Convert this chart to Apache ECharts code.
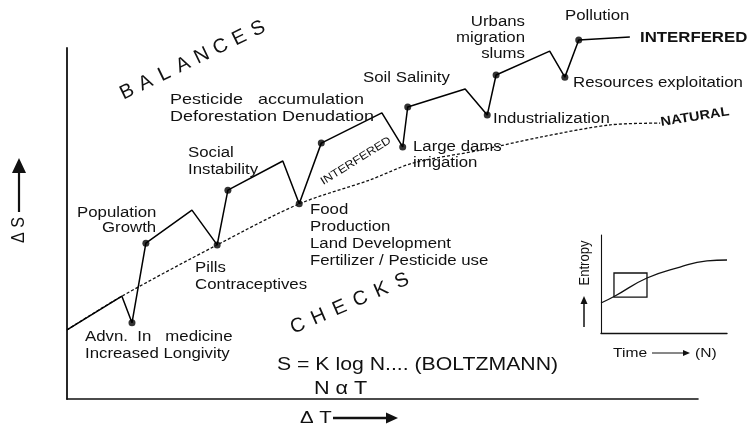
<!DOCTYPE html>
<html><head><meta charset="utf-8">
<script src="https://cdn.jsdelivr.net/npm/echarts@6/dist/echarts.min.js"></script>
<style>html,body{margin:0;padding:0;background:#fff}#c{width:749px;height:430px}</style>
</head><body><div id="c"></div>
<script>
// ---- data (time units 0-100, entropy units 0-100) ----
const naturalX = [0, 8.7, 23.8, 36.8, 48.0, 54.8, 65.5, 75.0, 86.1, 94.0];
const naturalY = [19.7, 29.3, 43.9, 55.6, 62.4, 67.2, 70.9, 74.6, 78.1, 78.6];
const interferedX = [0, 8.7, 10.3, 12.5, 19.8, 23.8, 25.5, 34.2, 36.8, 40.3, 49.9, 53.2, 54.0, 63.1, 66.6, 68.0, 76.5, 78.9, 81.1, 89.2];
const interferedY = [19.7, 29.3, 21.7, 44.4, 53.8, 43.9, 59.5, 67.8, 55.6, 72.9, 81.5, 71.8, 83.2, 88.3, 80.9, 92.3, 99.1, 91.7, 102.3, 103.1];
const eventIndex = [2, 3, 5, 6, 8, 9, 11, 12, 14, 15, 17, 18];
const eventNames = ['Advn. In medicine', 'Population Growth', 'Pills Contraceptives', 'Social Instability',
  'Food Production', 'Pesticide accumulation', 'Large dams irrigation', 'Soil Salinity',
  'Industrialization', 'Urbans migration slums', 'Resources exploitation', 'Pollution'];
// inset (0-10 units)
const insetX = [0, 1.11, 3.65, 6.27, 8.41, 10];
const insetY = [3.06, 3.78, 5.61, 6.73, 7.35, 7.45];
const insetBoxX = [1.03, 3.65];
const insetBoxY = [3.67, 6.12];

const zip = (xs, ys) => xs.map((x, i) => [x, ys[i]]);
const FF = "'Liberation Sans', Arial, sans-serif";
const INK = '#111';

function T(text, x, y, o) {
  o = o || {};
  const size = o.size || 14;
  return {
    type: 'text', x: x, y: y, z: 100,
    rotation: o.rot || 0,
    scaleX: o.sx != null ? o.sx : 1.2,
    scaleY: o.sy != null ? o.sy : 1,
    style: {
      text: text, fill: INK,
      font: (o.bold ? 'bold ' : '') + size + 'px ' + FF,
      textAlign: o.align || 'left', align: o.align || 'left',
      textVerticalAlign: 'middle', verticalAlign: 'middle'
    }
  };
}
function letters(word, x0, y0, x1, y1, size) {
  const n = word.length, rot = Math.atan2(y0 - y1, x1 - x0);
  return word.split('').map((ch, i) => T(ch, x0 + (x1 - x0) * i / (n - 1), y0 + (y1 - y0) * i / (n - 1),
    { size: size, rot: rot, sx: 1, align: 'center' }));
}
const graphics = [];
[
  ['Advn.  In   medicine', 85, 337], ['Increased Longivity', 85, 354],
  ['Population', 77, 213], ['Growth', 102, 228],
  ['Pills', 195, 268], ['Contraceptives', 195, 285],
  ['Social', 188, 153], ['Instability', 188, 170],
  ['Food', 310, 210], ['Production', 310, 227], ['Land Development', 310, 244], ['Fertilizer / Pesticide use', 310, 261],
  ['Large dams', 413, 147], ['irrigation', 413, 163],
  ['Soil Salinity', 363, 78],
  ['Industrialization', 493, 119],
  ['Pollution', 565, 16],
  ['Resources exploitation', 573, 83]
].forEach(a => graphics.push(T(a[0], a[1], a[2])));
graphics.push(T('Pesticide   accumulation', 170, 100, { size: 15 }));
graphics.push(T('Deforestation Denudation', 170, 117, { size: 15 }));
['Urbans', 'migration', 'slums'].forEach((s, i) => graphics.push(T(s, 525, 22 + i * 16, { align: 'right' })));
graphics.push(T('INTERFERED', 640, 38, { bold: true, size: 14 }));
graphics.push(T('NATURAL', 695, 117, { bold: true, size: 13, sx: 1.12, rot: 0.157, align: 'center' }));
graphics.push(T('INTERFERED', 356, 161, { size: 11, sx: 1.15, rot: 0.56, align: 'center' }));
graphics.push(...letters('BALANCES', 127, 92, 258, 29, 20));
graphics.push(...letters('CHECKS', 298, 326, 402, 281, 20));
graphics.push(T('S = K log N.... (BOLTZMANN)', 277, 365, { size: 18, sx: 1.18 }));
graphics.push(T('N \u03b1 T', 314, 389, { size: 18 }));
graphics.push(T('\u0394 T', 300, 418, { size: 17 }));
graphics.push(T('\u0394 S', 19, 230, { size: 16, rot: Math.PI / 2, sx: 1, sy: 1.2, align: 'center' }));
graphics.push(T('Entropy', 585, 263, { size: 13, rot: Math.PI / 2, sx: 1, sy: 1.1, align: 'center' }));
graphics.push(T('Time', 613, 353, { size: 13 }));
graphics.push(T('(N)', 695, 353, { size: 13 }));
// arrows
function arrow(x0, y0, x1, y1, w, hl, hw) {
  const dx = x1 - x0, dy = y1 - y0, L = Math.hypot(dx, dy), ux = dx / L, uy = dy / L;
  const bx = x1 - ux * hl, by = y1 - uy * hl;
  graphics.push({ type: 'line', z: 100, shape: { x1: x0, y1: y0, x2: bx, y2: by }, style: { stroke: INK, lineWidth: w } });
  graphics.push({ type: 'polygon', z: 100, shape: { points: [[x1, y1], [bx - uy * hw, by + ux * hw], [bx + uy * hw, by - ux * hw]] }, style: { fill: INK } });
}
arrow(19, 212, 19, 158, 2.2, 15, 7);
arrow(333, 418, 398, 418, 2.4, 12, 5.5);
arrow(584, 327, 584, 296, 1.5, 8, 3.5);
arrow(652, 353, 690, 353, 1, 7, 3);

const axisCommon = {
  type: 'value', axisTick: { show: false }, axisLabel: { show: false }, splitLine: { show: false }
};
const chart = echarts.init(document.getElementById('c'));
chart.setOption({
  animation: false,
  backgroundColor: '#fff',
  grid: [
    { left: 67, top: 48, width: 631, height: 351 },
    { left: 601, top: 235, width: 126, height: 98 }
  ],
  xAxis: [
    Object.assign({ gridIndex: 0, min: 0, max: 100, axisLine: { onZero: false, lineStyle: { color: INK, width: 1.6 } } }, axisCommon),
    Object.assign({ gridIndex: 1, min: 0, max: 10, axisLine: { onZero: false, lineStyle: { color: INK, width: 1.4 } } }, axisCommon)
  ],
  yAxis: [
    Object.assign({ gridIndex: 0, min: 0, max: 100, axisLine: { onZero: false, lineStyle: { color: INK, width: 1.8 } } }, axisCommon),
    Object.assign({ gridIndex: 1, min: 0, max: 10, axisLine: { onZero: false, lineStyle: { color: INK, width: 1.1 } } }, axisCommon)
  ],
  series: [
    { name: 'NATURAL', type: 'line', data: zip(naturalX, naturalY), smooth: 0.3, symbol: 'none', clip: false,
      lineStyle: { color: INK, width: 1.3, type: [3, 2] } },
    { name: 'INTERFERED', type: 'line', data: zip(interferedX, interferedY), symbol: 'none', clip: false,
      lineStyle: { color: '#000', width: 1.5 } },
    { name: 'events', type: 'scatter', clip: false, symbolSize: 7, itemStyle: { color: '#000' },
      data: eventIndex.map((k, i) => ({ name: eventNames[i], value: [interferedX[k], interferedY[k]] })) },
    { name: 'inset', type: 'line', xAxisIndex: 1, yAxisIndex: 1, data: zip(insetX, insetY), smooth: true,
      symbol: 'none', lineStyle: { color: INK, width: 1.3 },
      markArea: { silent: true, itemStyle: { color: 'rgba(0,0,0,0)', borderColor: INK, borderWidth: 1.3 },
        data: [[{ coord: [insetBoxX[0], insetBoxY[0]] }, { coord: [insetBoxX[1], insetBoxY[1]] }]] } }
  ],
  graphic: { elements: graphics }
});
</script></body></html>
